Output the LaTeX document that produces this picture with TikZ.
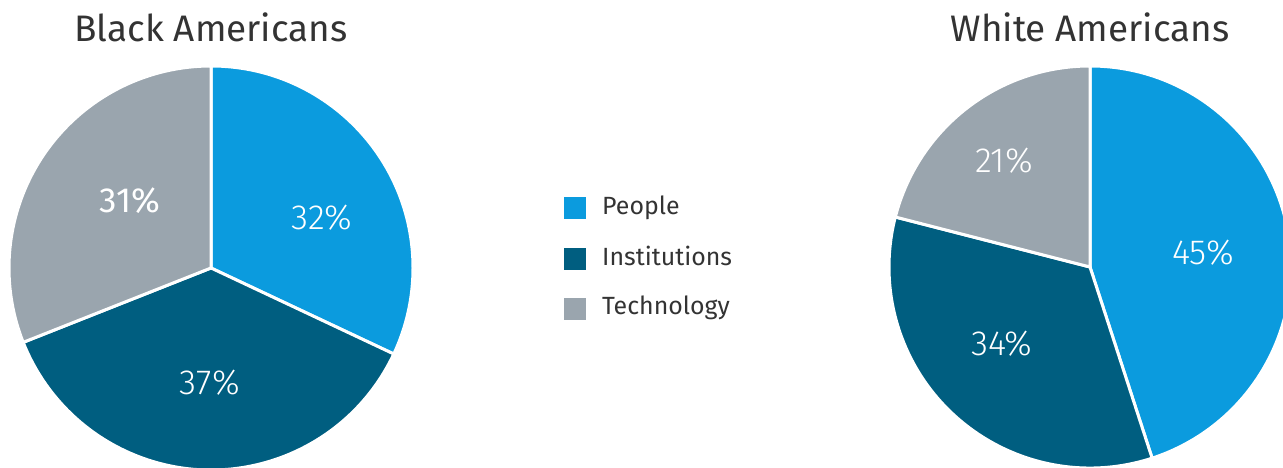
\documentclass[tikz,border=0pt]{standalone}
\usepackage{fontspec}
\setmainfont{Fira Sans}
\newfontfamily\thinfont{Fira Sans Light}
\definecolor{people}{HTML}{0B9BDE}
\definecolor{inst}{HTML}{005E80}
\definecolor{tech}{HTML}{9AA5AE}
\definecolor{ink}{HTML}{333333}
\begin{document}
\begin{tikzpicture}[x=1bp, y=1bp,
    slice/.style={draw=white, line width=3bp, line join=round},
    pct/.style={text=white, font=\thinfont\fontsize{35}{42}\selectfont},
    title/.style={text=ink, font=\fontsize{37}{44}\selectfont},
    key/.style={minimum size=22bp, inner sep=0pt},
    keytext/.style={text=ink, anchor=base west, inner sep=0pt, font=\fontsize{25}{30}\selectfont}]
  \useasboundingbox (0,0) rectangle (1283,468);
  \clip (0,0) rectangle (1283,468);
  % black americans
  \coordinate (bc) at (211,200);
  \foreach \a/\b/\c in {90/-25.2/people, -25.2/-158.4/inst, -158.4/-270/tech}
    \filldraw[slice, fill=\c] (bc) -- ++(\a:202) arc[start angle=\a, end angle=\b, radius=202] -- cycle;
  \node[title] (btitle) at (211,441) {Black Americans};
  \node[pct] (bpeople) at (322,250) {32\%};
  \node[pct] (binst) at (210,85) {37\%};
  \node[pct, font=\fontsize{35}{42}\selectfont] (btech) at (130,267) {31\%};
  % white americans
  \coordinate (wc) at (1090,201);
  \foreach \a/\b/\c in {90/-72/people, -72/-194.4/inst, -194.4/-270/tech}
    \filldraw[slice, fill=\c] (wc) -- ++(\a:201) arc[start angle=\a, end angle=\b, radius=201] -- cycle;
  \node[title] (wtitle) at (1090,441) {White Americans};
  \node[pct] (wpeople) at (1203,215) {45\%};
  \node[pct] (winst) at (1002,124) {34\%};
  \node[pct] (wtech) at (1004,307) {21\%};
  % legend
  \foreach \c/\t/\y/\b in {people/People/260/253, inst/Institutions/209/202, tech/Technology/159/153}{
    \node[key, fill=\c] (key\c) at (575,\y) {};
    \node[keytext] (lab\c) at (602,\b) {\t};
  }
\end{tikzpicture}
\end{document}
